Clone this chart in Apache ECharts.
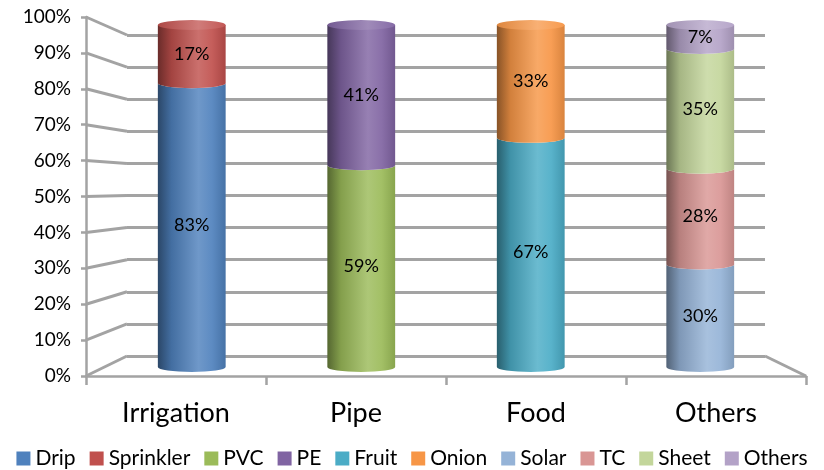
<!DOCTYPE html>
<html>
<head>
<meta charset="utf-8">
<title>Stacked cylinders</title>
<style>
  html, body { margin: 0; padding: 0; background: #fff; }
  #main { width: 824px; height: 470px; }
</style>
</head>
<body>
<div id="main"></div>
<script src="https://cdn.jsdelivr.net/npm/echarts@6/dist/echarts.min.js"></script>
<script>
// ---- data ----
const categories = ['Irrigation', 'Pipe', 'Food', 'Others'];
const seriesNames = ['Drip', 'Sprinkler', 'PVC', 'PE', 'Fruit', 'Onion', 'Solar', 'TC', 'Sheet', 'Others'];
const seriesColors = ['#4F81BD', '#C0504D', '#9BBB59', '#8064A2', '#4BACC6', '#F79646', '#95B3D7', '#D99694', '#C3D69B', '#B3A2C7'];
// one value per category, null where the series has no part
const drip      = [83, null, null, null];
const sprinkler = [17, null, null, null];
const pvc       = [null, 59, null, null];
const pe        = [null, 41, null, null];
const fruit     = [null, null, 67, null];
const onion     = [null, null, 33, null];
const solar     = [null, null, null, 30];
const tc        = [null, null, null, 28];
const sheet     = [null, null, null, 35];
const others    = [null, null, null, 7];
const seriesValues = [drip, sprinkler, pvc, pe, fruit, onion, solar, tc, sheet, others];

// ---- layout (front edge, back wall, and bars in between) ----
const W = 824, H = 470;
const front = { left: 86, right: 18, top: 17, bottom: 94 };
const back  = { left: 127, right: 59, top: 35, bottom: 114 };
const mid   = { left: 107, right: 39, top: 25, bottom: 103 };
const FONT = 'Lato, "Open Sans", sans-serif';

function shade(hex, amt) {
  // amt < 0 darkens toward black, amt > 0 lightens toward white
  const n = parseInt(hex.slice(1), 16);
  let r = (n >> 16) & 255, g = (n >> 8) & 255, b = n & 255;
  const t = amt < 0 ? 0 : 255, p = Math.abs(amt);
  r = Math.round(r + (t - r) * p);
  g = Math.round(g + (t - g) * p);
  b = Math.round(b + (t - b) * p);
  return 'rgb(' + r + ',' + g + ',' + b + ')';
}

function bodyGradient(c) {
  return new echarts.graphic.LinearGradient(0, 0, 1, 0, [
    { offset: 0, color: shade(c, -0.45) },
    { offset: 0.2, color: shade(c, -0.15) },
    { offset: 0.6, color: shade(c, 0.18) },
    { offset: 0.8, color: shade(c, 0.08) },
    { offset: 1, color: shade(c, -0.12) }
  ]);
}

// stack totals per category
const totals = categories.map((_, ci) =>
  seriesValues.reduce((s, arr) => s + (arr[ci] || 0), 0));

function makeRender(color) {
  return function (params, api) {
    const ci = api.value(0), lo = api.value(1), hi = api.value(2), v = api.value(3);
    const pb = api.coord([ci, lo]);
    const pt = api.coord([ci, hi]);
    const w = api.size([1, 0])[0] * 0.4;
    const rx = w / 2, ry = 5;
    const L = pb[0] - rx, R = pb[0] + rx;
    const yb = pb[1], yt = pt[1];
    const isTop = hi >= totals[ci] - 0.001;
    const topEdge = isTop
      ? 'M' + L + ',' + yt + ' L' + R + ',' + yt
      : 'M' + L + ',' + yt + ' A' + rx + ',' + ry + ' 0 0 0 ' + R + ',' + yt;
    const d = topEdge + ' L' + R + ',' + yb + ' A' + rx + ',' + ry + ' 0 0 1 ' + L + ',' + yb + ' Z';
    const children = [{
      type: 'path',
      shape: { pathData: d },
      style: { fill: bodyGradient(color) }
    }];
    if (isTop) {
      children.push({
        type: 'path',
        shape: {
          pathData: 'M' + L + ',' + yt + ' A' + rx + ',' + ry + ' 0 0 0 ' + R + ',' + yt +
                    ' A' + rx + ',' + ry + ' 0 0 0 ' + L + ',' + yt + ' Z'
        },
        style: {
          fill: new echarts.graphic.LinearGradient(0, 0, 1, 0, [
            { offset: 0, color: shade(color, -0.1) },
            { offset: 0.6, color: shade(color, 0.25) },
            { offset: 1, color: shade(color, 0.05) }
          ])
        }
      });
    }
    children.push({
      type: 'text',
      x: pb[0],
      y: (yt + yb) / 2,
      style: {
        text: v + '%',
        fill: '#000',
        fontSize: 18,
        fontFamily: FONT,
        align: 'center',
        verticalAlign: 'middle'
      }
    });
    return { type: 'group', children: children };
  };
}

const series = [];
const base = categories.map(() => 0);
seriesValues.forEach((arr, si) => {
  const data = [];
  arr.forEach((v, ci) => {
    if (v == null) return;
    data.push([ci, base[ci], base[ci] + v, v]);
    base[ci] += v;
  });
  series.push({
    name: seriesNames[si],
    type: 'custom',
    xAxisIndex: 2,
    yAxisIndex: 2,
    itemStyle: { color: seriesColors[si] },
    renderItem: makeRender(seriesColors[si]),
    encode: { x: 0, y: [1, 2] },
    data: data,
    z: 5
  });
});

const gray = '#a3a3a3';

const chart = echarts.init(document.getElementById('main'));
chart.setOption({
  animation: false,
  backgroundColor: '#fff',
  textStyle: { fontFamily: FONT },
  legend: {
    data: seriesNames,
    top: 443,
    left: 'center',
    icon: 'rect',
    itemWidth: 14,
    itemHeight: 14,
    itemGap: 14,
    textStyle: { fontSize: 21, color: '#000', fontFamily: FONT }
  },
  grid: [
    { left: back.left, right: back.right, top: back.top, bottom: back.bottom },
    { left: front.left, right: front.right, top: front.top, bottom: front.bottom },
    { left: mid.left, right: mid.right, top: mid.top, bottom: mid.bottom }
  ],
  xAxis: [
    { gridIndex: 0, type: 'category', data: categories, show: false },
    {
      gridIndex: 1, type: 'category', data: categories,
      axisLine: { lineStyle: { color: gray, width: 2.5 } },
      axisTick: { show: true, length: 9, lineStyle: { color: gray, width: 2.5 } },
      axisLabel: { fontSize: 27, color: '#000', margin: 24, fontFamily: FONT }
    },
    { gridIndex: 2, type: 'category', data: categories, show: false }
  ],
  yAxis: [
    {
      gridIndex: 0, type: 'value', min: 0, max: 100, interval: 10,
      axisLine: { show: false }, axisTick: { show: false }, axisLabel: { show: false },
      splitLine: { show: true, lineStyle: { color: gray, width: 3 } }
    },
    {
      gridIndex: 1, type: 'value', min: 0, max: 100, interval: 10,
      axisLine: { show: true, lineStyle: { color: gray, width: 2.5 } },
      axisTick: { show: true, length: 5, lineStyle: { color: gray, width: 2.5 } },
      axisLabel: { formatter: '{value}%', fontSize: 19, color: '#000', margin: 15, fontFamily: FONT },
      splitLine: { show: false }
    },
    { gridIndex: 2, type: 'value', min: 0, max: 100, show: false, splitLine: { show: false } }
  ],
  series: series
});

// side-wall diagonals joining the front axis to the back wall
const ticks = [];
for (let v = 0; v <= 100; v += 10) ticks.push(v);
const diag = ticks.map(v => {
  const yf = chart.convertToPixel({ yAxisIndex: 1 }, v);
  const yb = chart.convertToPixel({ yAxisIndex: 0 }, v);
  return {
    type: 'line', z: 1,
    shape: { x1: front.left, y1: yf, x2: back.left, y2: yb },
    style: { stroke: gray, lineWidth: 3 }
  };
});
const yf0 = chart.convertToPixel({ yAxisIndex: 1 }, 0);
const yb0 = chart.convertToPixel({ yAxisIndex: 0 }, 0);
diag.push({
  type: 'line', z: 1,
  shape: { x1: W - back.right, y1: yb0, x2: W - front.right, y2: yf0 },
  style: { stroke: gray, lineWidth: 3 }
});
chart.setOption({ graphic: diag });
</script>
</body>
</html>
